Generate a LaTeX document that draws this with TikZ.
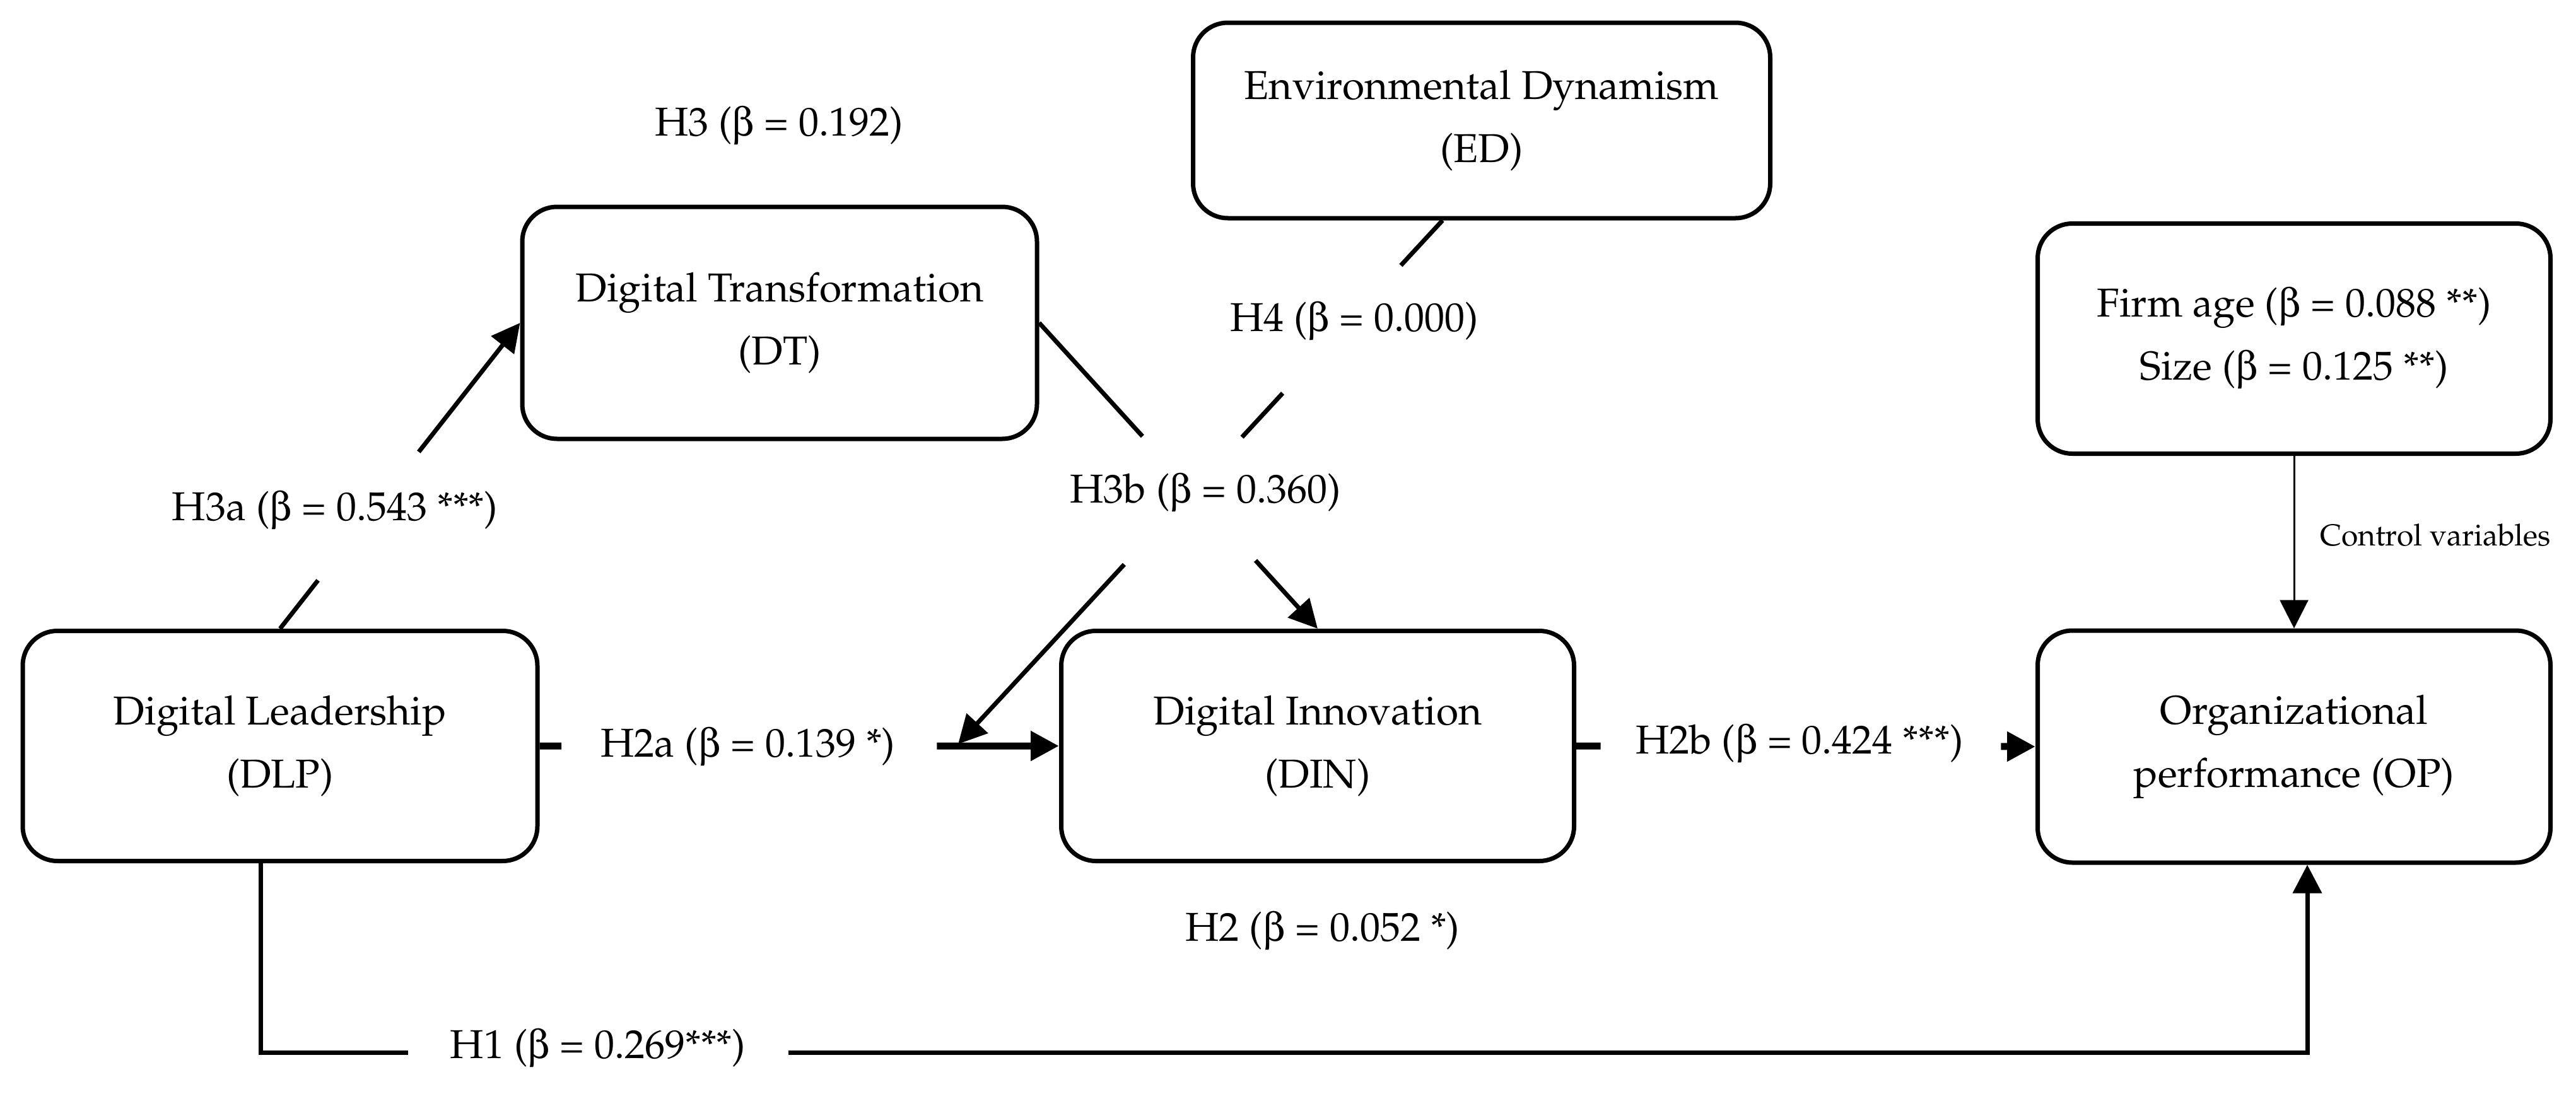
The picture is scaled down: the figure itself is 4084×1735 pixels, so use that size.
\documentclass[tikz,border=0pt]{standalone}
\usepackage[T1]{fontenc}
\usepackage{mathpazo}
\usepackage[Symbol]{upgreek}
\usetikzlibrary{arrows.meta,calc}
\newcommand{\bt}{$\upbeta$}
\begin{document}
\begin{tikzpicture}[x=0.25pt,y=-0.25pt,
  box/.style={draw, line width=1.75pt, rounded corners=13.75pt, align=center,
    font=\fontsize{16}{25}\selectfont, inner sep=0pt},
  lbl/.style={font=\fontsize{16}{20}\selectfont, inner sep=0pt},
  small/.style={font=\fontsize{12}{15}\selectfont, inner sep=0pt},
  conn/.style={line width=1.75pt},
  thick conn/.style={line width=2.75pt},
  thin conn/.style={line width=0.75pt},
  tip/.style={-{Triangle[length=11.25pt,width=11.25pt]}}]
\useasboundingbox (0,0) rectangle (4084,1735);

% boxes
\node[box, minimum width=204pt, minimum height=91.25pt] (DLP) at (444,1183) {Digital Leadership\\(DLP)};
\node[box, minimum width=204pt, minimum height=92pt] (DT) at (1236,512) {Digital Transformation\\(DT)};
\node[box, minimum width=228.75pt, minimum height=77.5pt] (ED) at (2349,191) {Environmental Dynamism\\(ED)};
\node[box, minimum width=203.25pt, minimum height=91.25pt] (DIN) at (2089,1183) {Digital Innovation\\(DIN)};
\node[box, minimum width=203.25pt, minimum height=91.25pt] (CV) at (3637,537) {Firm age (\bt{} = 0.088 **)\\Size (\bt{} = 0.125 **)};
\node[box, minimum width=203.25pt, minimum height=92pt] (OP) at (3637,1184) {Organizational\\performance (OP)};

\coordinate (jn) at (1519,1180);
\coordinate (eds) at ([xshift=-15.5pt]ED.south);

% H3a
\draw[conn] (DLP.north) -- ($(DLP.north)!0.158!(DT.west)$);
\draw[conn,tip] ($(DLP.north)!0.578!(DT.west)$) -- (DT.west);
% H3b
\draw[conn] (DT.east) -- ($(DT.east)!0.371!(DIN.north)$);
\draw[conn,tip] ($(DT.east)!0.777!(DIN.north)$) -- (DIN.north);
% H4
\draw[conn] (eds) -- ($(eds)!0.086!(jn)$);
\draw[conn] ($(eds)!0.330!(jn)$) -- ($(eds)!0.414!(jn)$);
\draw[conn,tip] ($(eds)!0.657!(jn)$) -- (jn);
% H2a
\draw[thick conn] (DLP.east) -- ($(DLP.east)!0.042!(DIN.west)$);
\draw[thick conn,tip] ($(DLP.east)!0.765!(DIN.west)$) -- (DIN.west);
% H2b
\draw[thick conn] (DIN.east) -- ($(DIN.east)!0.053!(OP.west)$);
\draw[thick conn,tip] ($(DIN.east)!0.925!(OP.west)$) -- (OP.west);
% H1
\draw[conn,tip] ([xshift=-7.75pt]DLP.south) -- ++(0,300) -| ([xshift=5.25pt]OP.south);
% control
\draw[thin conn,tip] (CV.south) -- (OP.north);

% labels
\node[lbl] (lH3) at (1235,200) {H3 (\bt{} = 0.192)};
\node[lbl] (lH3a) at (531,810) {H3a (\bt{} = 0.543 ***)};
\node[lbl] (lH3b) at (1911,782) {H3b (\bt{} = 0.360)};
\node[lbl] (lH4) at (2147,510) {H4 (\bt{} = 0.000)};
\node[lbl] (lH2a) at (1186,1185) {H2a (\bt{} = 0.139 *)};
\node[lbl] (lH2b) at (2853,1180) {H2b (\bt{} = 0.424 ***)};
\node[lbl] (lH2) at (2097,1477) {H2 (\bt{} = 0.052 *)};
\node[lbl, fill=white, minimum width=150.75pt, minimum height=20pt] (lH1) at (948,1663) {H1 (\bt{} = 0.269***)};
\node[small] (lCV) at (3861,849) {Control variables};
\end{tikzpicture}
\end{document}
